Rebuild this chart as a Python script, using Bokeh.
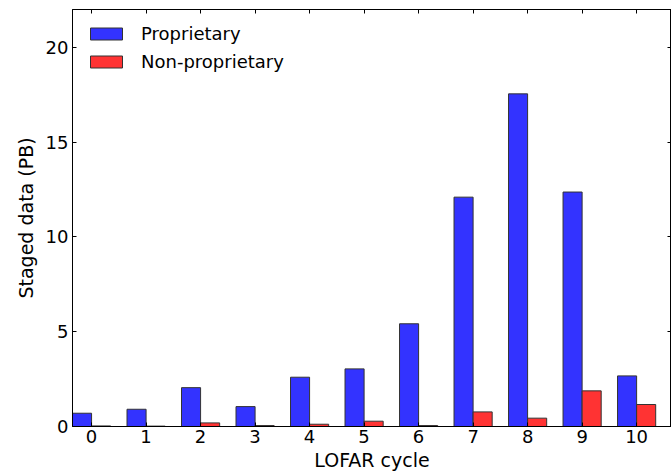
import numpy as np
from bokeh.plotting import figure
from bokeh.models import LinearAxis, Range1d, FixedTicker
from bokeh.embed import file_html
from bokeh.resources import INLINE

cycles = [0, 1, 2, 3, 4, 5, 6, 7, 8, 9, 10]
proprietary = [0.70, 0.91, 2.05, 1.05, 2.60, 3.04, 5.42, 12.10, 17.55, 12.37, 2.67]
non_proprietary = [0.03, 0.02, 0.19, 0.05, 0.12, 0.28, 0.05, 0.77, 0.44, 1.88, 1.16]
y_ticks = [0, 5, 10, 15, 20]

FONT = "DejaVu Sans"
bw = 0.35
xc = np.array(cycles, dtype=float)

p = figure(width=671, height=473, output_backend="svg", toolbar_location=None,
           x_range=Range1d(-0.35, 10.64), y_range=Range1d(0, 22),
           min_border_left=72, min_border_top=9, min_border_bottom=47, min_border_right=0)
p.xgrid.visible = False
p.ygrid.visible = False
p.outline_line_color = "black"
p.outline_line_width = 1
p.background_fill_color = "white"
p.border_fill_color = "white"

p.vbar(x=xc - bw / 2, top=proprietary, width=bw, bottom=0,
       fill_color="#3333ff", line_color="#333333", line_width=1, legend_label="Proprietary")
p.vbar(x=xc + bw / 2, top=non_proprietary, width=bw, bottom=0,
       fill_color="#ff3333", line_color="#333333", line_width=1, legend_label="Non-proprietary")

def style_axis(ax, show_labels=True):
    ax.major_tick_in = 4
    ax.major_tick_out = 0
    ax.minor_tick_in = 0
    ax.minor_tick_out = 0
    ax.axis_line_color = "black"
    ax.major_tick_line_color = "black"
    ax.major_label_text_font = FONT
    ax.major_label_text_font_size = "18px" if show_labels else "0px"
    ax.major_label_text_color = "black" if show_labels else None
    ax.axis_label_text_font = FONT
    ax.axis_label_text_font_size = "19px"
    ax.axis_label_text_font_style = "normal"
    ax.axis_label_text_color = "black"

p.xaxis.ticker = FixedTicker(ticks=cycles)
p.yaxis.ticker = FixedTicker(ticks=y_ticks)
p.xaxis.axis_label = "LOFAR cycle"
p.yaxis.axis_label = "Staged data (PB)"
style_axis(p.xaxis[0])
style_axis(p.yaxis[0])
p.xaxis.major_label_standoff = 3
p.xaxis.axis_label_standoff = 3
p.yaxis.major_label_standoff = 4
p.yaxis.axis_label_standoff = 6

top_ax = LinearAxis(ticker=FixedTicker(ticks=cycles))
style_axis(top_ax, show_labels=False)
p.add_layout(top_ax, "above")
right_ax = LinearAxis(ticker=FixedTicker(ticks=y_ticks))
style_axis(right_ax, show_labels=False)
p.add_layout(right_ax, "right")

lg = p.legend[0]
lg.location = "top_left"
lg.border_line_color = None
lg.background_fill_alpha = 0
lg.label_text_font = FONT
lg.label_text_font_size = "18px"
lg.label_text_color = "black"
lg.glyph_width = 40
lg.glyph_height = 15
lg.label_height = 15
lg.label_standoff = 15
lg.spacing = 7
lg.margin = 14
lg.padding = 9

open("out.html", "w").write(file_html(p, INLINE))
